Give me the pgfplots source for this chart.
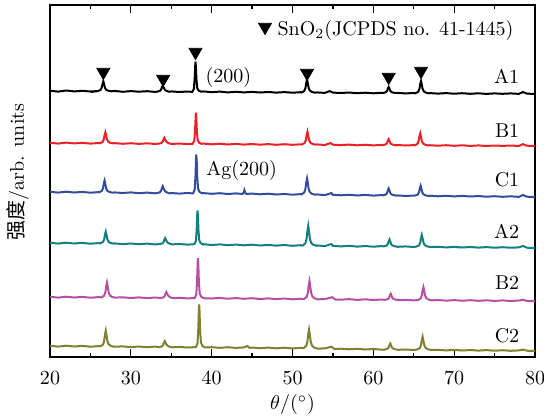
\documentclass[border=0pt]{standalone}
\usepackage{fontspec}
\newfontfamily\cjk{Noto Sans CJK SC}
\usepackage{pgfplots}
\pgfplotsset{compat=1.18}

\definecolor{cA1}{RGB}{0,0,0}
\definecolor{cB1}{RGB}{236,32,38}
\definecolor{cC1}{RGB}{52,76,160}
\definecolor{cA2}{RGB}{18,128,128}
\definecolor{cB2}{RGB}{182,78,168}
\definecolor{cC2}{RGB}{128,128,48}

\begin{document}
\begin{tikzpicture}
\begin{axis}[
    scale only axis,
    width=242.5pt, height=176pt,
    xmin=20, xmax=80,
    ymin=0, ymax=352,
    xtick={20,30,...,80},
    minor x tick num=1,
    ytick=\empty,
    minor ytick={2,28,54,80,105,131,157,183,208,234,259,285,310,336},
    tick align=inside,
    tick pos=both,
    major tick length=4pt,
    minor tick length=2pt,
    axis line style={line width=0.8pt},
    every tick/.style={black, line width=0.6pt},
    xticklabel style={yshift=-4pt},
    xlabel={$\theta/(^\circ)$},
    ylabel={{\cjk 强度}/arb. units},
    xlabel style={at={(axis description cs:0.5,-0.136)}, anchor=center},
    ylabel style={at={(axis description cs:-0.066,0.525)}, anchor=center},
    clip=false,
]
\coordinate (bl) at (rel axis cs:0,0);
\coordinate (tr) at (rel axis cs:1,1);
% A1
\addplot[cA1, line width=1pt] coordinates {
(20,266.3) (21,265.4) (22,266.5) (23,265.6) (24,266.2) (25,265.5) (26,266.0)
(25.9,265.9) (26.25,267.1) (26.4,269.4) (26.5,273.2) (26.6,275.7) (26.7,272.7) (26.8,269.2) (26.95,267.2) (27.2,266.3) (27.6,265.7)
(28,266.1) (29,265.2) (30,265.9) (31,265.3) (32,265.8) (33,265.1)
(33.3,265.4) (33.6,266.2) (33.75,267.5) (33.85,270) (33.95,271.3) (34.05,269.6) (34.2,267.3) (34.4,266.1) (34.8,265.2)
(35,265.6) (36,265.0) (37,265.5) (37.6,265.1)
(37.8,268) (37.9,278.6) (37.97,292) (38.0,295.2) (38.05,290.6) (38.12,277.5) (38.22,268.7) (38.4,266.3) (38.7,265.3)
(39,265.6) (40,264.8) (41,265.4) (42,264.6) (43,265.2) (44,264.6) (45,265.1) (46,264.5) (47,265.0) (48,264.4) (49,264.9) (50,264.3) (51,264.8)
(51.1,264.5) (51.45,266) (51.6,268.9) (51.7,274.1) (51.8,277.4) (51.9,273.5) (52.0,269) (52.15,266.4) (52.4,265.1) (52.8,264.3)
(53,264.6) (54,264.1) (54.6,265.9) (55,264.4) (56,264.0) (57,264.5) (58,263.8) (59,264.3) (60,263.7) (61,264.2)
(61.2,264) (61.55,264.8) (61.7,266.2) (61.8,268.5) (61.9,270) (62.0,268.2) (62.1,266.1) (62.25,264.9) (62.5,264.3) (62.9,263.8)
(63,264.1) (64,263.6) (65,264.0) (65.2,263.7)
(65.55,265.2) (65.7,268) (65.8,272.8) (65.9,275.8) (66.0,272.2) (66.1,268) (66.25,265.6) (66.5,264.4) (66.9,263.6)
(67,263.9) (68,263.4) (69,263.9) (70,263.3) (71,263.8) (72,263.2) (73,263.7) (74,263.1) (75,263.6) (76,263.2) (77,263.6) (78,263.1) (78.5,265.0) (79,263.4) (80,263.0)
};
% B1
\addplot[cB1, line width=1pt] coordinates {
(20,214.3) (21,213.4) (22,214.4) (23,213.6) (24,214.2) (25,213.4) (26,214.0)
(26.15,213.7) (26.5,215.0) (26.65,217.5) (26.75,221.9) (26.85,224.7) (26.95,221.4) (27.05,217.5) (27.2,215.3) (27.45,214.2) (27.85,213.6)
(28,213.9) (29,213.2) (30,213.8) (31,213.1) (32,213.7) (33,213.0)
(33.5,213.4) (33.8,214.1) (33.95,215.4) (34.05,217.8) (34.15,219.3) (34.25,217.5) (34.4,215.3) (34.6,214.1) (35,213.0)
(36,213.5) (37,212.9) (37.65,213.2)
(37.85,216.2) (37.95,227) (38.02,241) (38.05,244.2) (38.1,239.5) (38.17,225.6) (38.27,216.8) (38.45,214.3) (38.75,213.2)
(39,213.4) (40,212.7) (41,213.3) (42,212.5) (43,213.1) (44,212.4) (45,213.0) (46,212.3) (47,212.9) (48,212.2) (49,212.8) (50,212.2) (51,212.7)
(51.15,212.5) (51.5,214) (51.65,216.9) (51.75,222.1) (51.85,225.4) (51.95,221.5) (52.05,217) (52.2,214.4) (52.45,213.1) (52.85,212.3)
(53,212.6) (54,212.0) (54.7,213.9) (55,212.3) (56,211.9) (57,212.4) (58,211.7) (59,212.2) (60,211.6) (61,212.1)
(61.2,211.9) (61.55,212.7) (61.7,214.1) (61.8,216.4) (61.9,217.9) (62.0,216.1) (62.1,214) (62.25,212.8) (62.5,212.2) (62.9,211.7)
(63,212.0) (64,211.5) (65,211.9) (65.1,211.6)
(65.45,213.1) (65.6,215.9) (65.7,220.7) (65.8,223.7) (65.9,220.1) (66.0,215.9) (66.15,213.5) (66.4,212.3) (66.8,211.5)
(67,211.8) (68,211.3) (69,211.8) (70,211.2) (71,211.7) (72,211.1) (73,211.6) (74,211.0) (75,211.5) (76,211.1) (77,211.5) (78,211.0) (78.5,212.9) (79,211.3) (80,210.9)
};
% C1
\addplot[cC1, line width=1pt] coordinates {
(20,165.3) (21,164.4) (22,165.3) (23,164.5) (24,165.1) (25,164.3) (26,164.9)
(26.05,164.6) (26.4,166) (26.55,168.6) (26.65,173.4) (26.75,176.4) (26.85,172.8) (26.95,168.6) (27.1,166.2) (27.35,165) (27.75,164.3)
(28,164.6) (29,164.0) (30,164.6) (31,163.8) (32,164.4) (33,163.7)
(33.3,164.0) (33.6,164.8) (33.75,166.3) (33.85,169) (33.95,170.8) (34.05,168.7) (34.2,166.2) (34.4,164.8) (34.8,163.6)
(35,164.0) (36,163.4) (37,164.0) (37.7,163.6)
(37.9,167.4) (38.0,181) (38.07,198.6) (38.1,202.5) (38.15,196.6) (38.22,179.1) (38.32,168.2) (38.5,165.1) (38.8,163.7)
(39,163.9) (40,163.2) (41,163.8) (42,163.0) (43,163.6)
(43.8,163.0) (43.95,164.2) (44.05,167.0) (44.15,164.3) (44.3,163.1)
(45,163.4) (46,162.7) (47,163.3) (48,162.5) (49,163.0) (50,162.3) (51,162.9)
(51.1,162.6) (51.45,164.5) (51.6,168.1) (51.7,174.6) (51.8,178.6) (51.9,173.8) (52.0,168.1) (52.15,164.9) (52.4,163.2) (52.8,162.3)
(53,162.6) (54,161.9) (54.8,163.9) (55,162.2) (56,161.7) (57,162.2) (58,161.5) (59,162.1) (60,161.4) (61,161.9)
(61.2,161.6) (61.55,162.5) (61.7,164.1) (61.8,166.8) (61.9,168.5) (62.0,166.4) (62.1,164) (62.25,162.6) (62.5,161.9) (62.9,161.3)
(63,161.6) (64,161.0) (65,161.5) (65.15,161.3)
(65.5,162.5) (65.65,164.8) (65.75,168.7) (65.85,171.2) (65.95,168.2) (66.05,164.7) (66.2,162.7) (66.45,161.7) (66.85,161.0)
(67,161.3) (68,160.7) (69,161.2) (70,160.6) (71,161.1) (72,160.5) (73,161.0) (74,160.3) (75,160.8) (76,160.2) (77,160.7) (78,160.1) (78.5,162.0) (79,160.3) (80,159.9)
};
% A2
\addplot[cA2, line width=1pt] coordinates {
(20,114.3) (21,113.4) (22,114.3) (23,113.5) (24,114.1) (25,113.3) (26,113.9)
(26.2,113.6) (26.55,115) (26.7,117.6) (26.8,122.4) (26.9,125.4) (27.0,121.8) (27.1,117.6) (27.25,115.2) (27.5,114) (27.9,113.3)
(28,113.6) (29,112.9) (30,113.5) (31,112.8) (32,113.4) (33,112.6)
(33.55,113.0) (33.9,113.6) (34.05,114.9) (34.15,117.3) (34.25,118.8) (34.35,117) (34.5,114.9) (34.7,113.7) (35.1,112.6)
(36,113.0) (37,112.4) (37.85,112.8)
(38.05,115.9) (38.15,127.8) (38.22,143.1) (38.25,146.5) (38.3,141.4) (38.37,126.1) (38.47,116.5) (38.65,113.8) (38.95,112.5)
(39,112.8) (40,112.0) (41,112.6) (42,111.9) (43,112.4) (44,111.7) (45,112.3) (46,111.5) (47,112.1) (48,111.4) (49,112.0) (50,111.2) (51,111.8)
(51.25,111.4) (51.6,113.7) (51.75,118.3) (51.85,126.3) (51.95,131.3) (52.05,125.3) (52.15,118.3) (52.3,114.3) (52.55,112.3) (52.95,111.2)
(53,111.6) (54,110.9) (54.8,113.0) (55,111.2) (56,110.6) (57,111.2) (58,110.4) (59,111.0) (60,110.3) (61,110.9)
(61.3,110.6) (61.65,111.5) (61.8,113.1) (61.9,115.8) (62.0,117.5) (62.1,115.4) (62.2,113) (62.35,111.6) (62.6,110.9) (63.0,110.2)
(64,110.6) (65,110.0) (65.3,110.4)
(65.65,111.7) (65.8,114.4) (65.9,119.2) (66.0,122.2) (66.1,118.6) (66.2,114.4) (66.35,112) (66.6,110.8) (67.0,110.0)
(68,110.2) (69,109.6) (70,110.1) (71,109.5) (72,110.0) (73,109.4) (74,109.9) (75,109.3) (76,109.8) (77,109.3) (78,109.6) (78.5,111.1) (79,109.3) (80,108.9)
};
% B2
\addplot[cB2, line width=1pt] coordinates {
(20,60.3) (21,59.4) (22,60.3) (23,59.5) (24,60.1) (25,59.3) (26,59.9)
(26.35,59.6) (26.7,61.3) (26.85,64.7) (26.95,70.7) (27.05,74.5) (27.15,70) (27.25,64.7) (27.4,61.7) (27.65,60.2) (28.05,59.4)
(29,59.7) (30,59.0) (31,59.6) (32,58.9) (33,59.5)
(33.7,59.0) (34.05,59.7) (34.2,61.1) (34.3,63.5) (34.4,65) (34.5,63.2) (34.65,61.1) (34.85,59.8) (35.25,58.8)
(36,59.2) (37,58.6) (37.9,59.0)
(38.1,62.8) (38.2,76.8) (38.27,94.8) (38.3,98.8) (38.35,92.8) (38.42,74.8) (38.52,63.6) (38.7,60.4) (39.0,58.8)
(40,58.5) (41,59.1) (42,58.3) (43,58.9) (44,58.2) (45,58.8) (46,58.0) (47,58.6) (48,57.9) (49,58.5) (50,57.7) (51,58.3)
(51.4,57.9) (51.75,60) (51.9,64.2) (52.0,71.4) (52.1,75.9) (52.2,70.5) (52.3,64.2) (52.45,60.6) (52.7,58.8) (53.1,57.7)
(54,57.9) (54.9,59.8) (55.3,57.5) (56,57.3) (57,57.9) (58,57.1) (59,57.7) (60,57.0) (61,57.5)
(61.45,57.2) (61.8,57.9) (61.95,59.3) (62.05,61.7) (62.15,63.2) (62.25,61.4) (62.35,59.3) (62.5,58.1) (62.75,57.4) (63.15,56.9)
(64,57.2) (65,56.6) (65.5,57.0)
(65.85,58.5) (66.0,61.5) (66.1,66.7) (66.2,69.9) (66.3,66) (66.4,61.5) (66.55,58.9) (66.8,57.5) (67.2,56.7)
(68,57.0) (69,56.4) (70,56.9) (71,56.3) (72,56.8) (73,56.2) (74,56.7) (75,56.1) (76,56.6) (77,56.0) (78,56.5) (78.5,57.3) (79,56.1) (80,55.9)
};
% C2
\addplot[cC2, line width=1pt] coordinates {
(20,11.3) (21,10.4) (22,11.3) (23,10.5) (24,11.1) (25,10.3) (26,10.9)
(26.2,10.6) (26.55,12.3) (26.7,16) (26.8,22.4) (26.9,26.4) (27.0,21.6) (27.1,16) (27.25,12.8) (27.5,11.2) (27.9,10.3)
(29,10.6) (30,9.9) (31,10.5) (32,9.8) (33,10.4)
(33.5,9.9) (33.85,10.6) (34.0,12) (34.1,14.4) (34.2,15.9) (34.3,14.1) (34.45,12) (34.65,10.7) (35.05,9.7)
(36,10.1) (37,9.5) (38.05,9.9)
(38.25,13.7) (38.35,28.9) (38.42,48.2) (38.45,52.5) (38.5,46.1) (38.57,26.7) (38.67,14.6) (38.85,11.2) (39.15,9.6)
(40,9.8) (41,9.2) (42,9.8) (43,9.1) (44,9.6) (44.4,11.0) (44.7,9.1) (45,9.5) (46,8.8) (47,9.4) (48,8.7) (49,9.3) (50,8.6) (51,9.1)
(51.35,8.8) (51.7,11) (51.85,15.6) (51.95,23.2) (52.05,27.5) (52.15,22.1) (52.25,15.5) (52.4,11.6) (52.65,9.6) (53.05,8.4)
(54,8.6) (54.8,10.3) (55.2,8.0) (56,8.3) (57,7.7) (58,8.2) (59,7.5) (60,8.0) (61,7.4)
(61.4,7.5) (61.75,8.2) (61.9,9.6) (62.0,12) (62.1,13.5) (62.2,11.7) (62.3,9.6) (62.45,8.4) (62.7,7.7) (63.1,7.2)
(64,7.5) (65,7.0) (65.4,7.4)
(65.75,8.9) (65.9,11.9) (66.0,17.1) (66.1,20.3) (66.2,16.4) (66.3,11.9) (66.45,9.3) (66.7,7.9) (67.1,7.0)
(68,7.2) (69,6.6) (70,7.1) (71,6.5) (72,7.0) (73,6.4) (74,6.9) (75,6.3) (76,6.8) (77,6.2) (78,6.6) (78.6,7.4) (79,6.3) (80,6.0)
};
% SnO2 reflections
\addplot[only marks, mark=triangle*, mark size=3.75pt, black,
    mark options={rotate=180}] coordinates {
(26.6,285) (34.0,278) (38.0,305) (51.8,284) (61.9,280) (65.9,286) (46.6,330)
};
\node[inner sep=0pt, anchor=base west] at (axis cs:48.1,322) {SnO$_2$(JCPDS no. 41-1445)};
\node[inner sep=0pt, anchor=base west] at (axis cs:39.2,275) {(200)};
\node[inner sep=0pt, anchor=base west] at (axis cs:39.3,182) {Ag(200)};
\node[inner sep=0pt, anchor=base east] at (axis cs:78.1,274) {A1};
\node[inner sep=0pt, anchor=base east] at (axis cs:78.1,220) {B1};
\node[inner sep=0pt, anchor=base east] at (axis cs:78.1,171) {C1};
\node[inner sep=0pt, anchor=base east] at (axis cs:78.1,119) {A2};
\node[inner sep=0pt, anchor=base east] at (axis cs:78.1,68) {B2};
\node[inner sep=0pt, anchor=base east] at (axis cs:78.1,15) {C2};
\end{axis}
\pgfresetboundingbox
\path[use as bounding box] ([xshift=-25pt,yshift=-31pt]bl) rectangle ([xshift=4.5pt,yshift=2.5pt]tr);
\end{tikzpicture}
\end{document}
